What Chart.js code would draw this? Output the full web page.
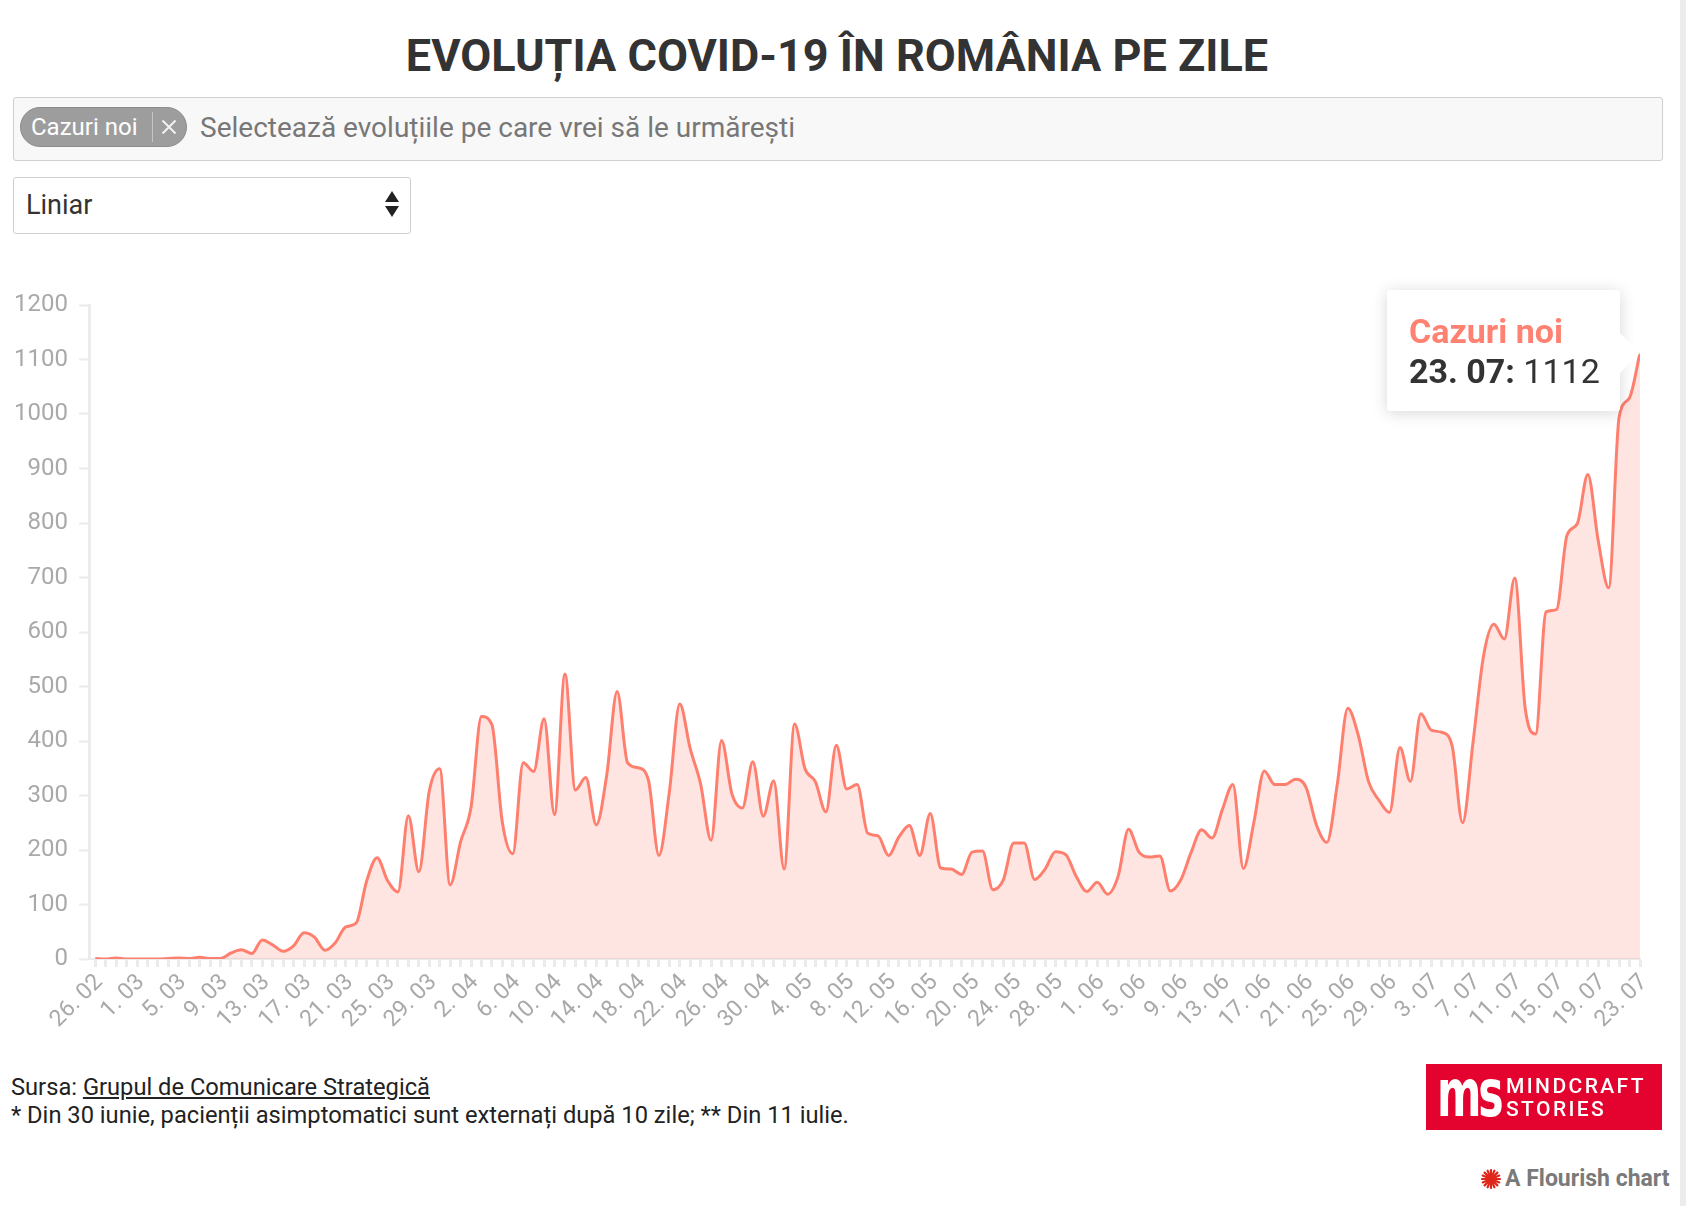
<!DOCTYPE html>
<html lang="ro">
<head>
<meta charset="utf-8">
<title>Evoluția COVID-19 în România pe zile</title>
<script src="https://cdn.jsdelivr.net/npm/chart.js@4.4.1/dist/chart.umd.min.js"></script>
<style>
  html, body { margin: 0; padding: 0; background: #fff; }
  body { width: 1686px; height: 1206px; position: relative; overflow: hidden;
         font-family: Roboto, "Noto Sans", sans-serif; color: #333; }
  #title { position: absolute; left: 0; top: 30px; width: 1674px; text-align: center;
           font-weight: 700; font-size: 45px; line-height: 52px; color: #333; }
  #picker { position: absolute; left: 13px; top: 97px; width: 1648px; height: 62px;
            background: #f8f8f8; border: 1px solid #cfcfcf; border-radius: 3px; }
  #picker .pill { position: absolute; left: 6px; top: 9px; width: 167px; height: 40px; box-sizing: border-box;
                  border-radius: 20px; background: #9d9d9d; border: 1px solid #8c8c8c; color: #fff;
                  font-size: 24px; line-height: 38px; padding-left: 10px; }
  #picker .pill .sep { position: absolute; left: 131px; top: 4px; width: 1px; height: 30px; background: #c4c4c4; }
  #picker .pill svg { position: absolute; left: 140px; top: 11px; }
  #picker .hint { position: absolute; left: 186px; top: 0; line-height: 60px; font-size: 28px; color: #777; }
  #scale { position: absolute; left: 13px; top: 177px; width: 384px; height: 55px;
           border: 1px solid #cfcfcf; border-radius: 3px; background: #fff;
           font-size: 27px; line-height: 55px; padding-left: 12px; }
  #scale .up, #scale .down { position: absolute; right: 11px; width: 0; height: 0;
           border-left: 7px solid transparent; border-right: 7px solid transparent; }
  #scale .up { top: 13px; border-bottom: 11px solid #222; }
  #scale .down { top: 28px; border-top: 11px solid #222; }
  #chartBox { position: absolute; left: 0; top: 273px; width: 1686px; height: 790px; }
  #tip { position: absolute; width: 233px; height: 121px; box-sizing: border-box; background: #fff;
         border-radius: 3px; box-shadow: 0 2px 16px rgba(0,0,0,0.16); padding: 21px 0 0 22px; }
  #tip .t { font-weight: 700; font-size: 34px; line-height: 40px; color: #ff8172; }
  #tip .b { font-size: 34px; line-height: 40px; color: #333; }
  #tip .caret { position: absolute; right: -20px; top: 43px; width: 0; height: 0;
         border-top: 20px solid transparent; border-bottom: 20px solid transparent; border-left: 20px solid #fff; }
  #source { position: absolute; left: 11px; top: 1073px; font-size: 23.7px; line-height: 28px; color: #222; }
  #source a { color: #222; text-decoration: underline; }
  #logo { position: absolute; left: 1426px; top: 1064px; width: 236px; height: 66px; background: #e4032e; color: #fff; }
  #logo .ms { position: absolute; left: 11px; top: -4px; font-family: "DejaVu Sans", sans-serif; font-weight: 700;
              font-size: 52px; line-height: 66px; letter-spacing: -4px; transform: scale(0.82, 1.25); transform-origin: left center; }
  #logo .name { position: absolute; left: 80px; top: 11px; font-size: 21px; line-height: 23px; letter-spacing: 2.4px; font-weight: 500; }
  #flourish { position: absolute; left: 1480px; top: 1165px; font-size: 23px; font-weight: 700; color: #7a7a7a; line-height: 28px; }
  #flourish svg { vertical-align: -4px; margin-right: 3px; }
  #edge { position: absolute; left: 1680px; top: 0; width: 6px; height: 1206px; background: #ececec; }
</style>
</head>
<body>
<div id="title">EVOLUȚIA COVID-19 ÎN ROMÂNIA PE ZILE</div>
<div id="picker">
  <div class="pill">Cazuri noi<span class="sep"></span><svg width="16" height="16" viewBox="0 0 16 16"><path d="M1.5 1.5 L14.5 14.5 M14.5 1.5 L1.5 14.5" stroke="#f2f2f2" stroke-width="2"/></svg></div>
  <div class="hint">Selectează evoluțiile pe care vrei să le urmărești</div>
</div>
<div id="scale">Liniar<span class="up"></span><span class="down"></span></div>
<div id="chartBox"><canvas id="chart"></canvas></div>
<div id="tip"><div class="t"></div><div class="b"></div><span class="caret"></span></div>
<div id="source">Sursa: <a>Grupul de Comunicare Strategică</a><br>* Din 30 iunie, pacienții asimptomatici sunt externați după 10 zile; ** Din 11 iulie.</div>
<div id="logo"><div class="ms">ms</div><div class="name">MINDCRAFT<br>STORIES</div></div>
<div id="flourish"><svg width="22" height="22" viewBox="-11 -11 22 22"><g stroke="#e0261b" stroke-width="2.2" stroke-linecap="round">
  <line x1="-9" y1="0" x2="9" y2="0"/><line x1="0" y1="-9" x2="0" y2="9"/><line x1="-6.4" y1="-6.4" x2="6.4" y2="6.4"/><line x1="-6.4" y1="6.4" x2="6.4" y2="-6.4"/>
  <line x1="-3.4" y1="-8.3" x2="3.4" y2="8.3"/><line x1="-8.3" y1="-3.4" x2="8.3" y2="3.4"/><line x1="-3.4" y1="8.3" x2="3.4" y2="-8.3"/><line x1="-8.3" y1="3.4" x2="8.3" y2="-3.4"/></g></svg>A Flourish chart</div>
<div id="edge"></div>

<script>
// Daily new cases ("Cazuri noi"), 26 Feb - 23 Jul 2020
const seriesName = 'Cazuri noi';
const monthCodes = ['02', '03', '04', '05', '06', '07'];
const monthFirstDay = [26, 1, 1, 1, 1, 1];

const febCases = [1, 0, 2, 0];
const marCases = [0, 0, 0, 1, 2, 1, 3, 1, 1, 11, 17, 10, 35, 26, 14, 24, 48, 40, 16, 30,
                  59, 66, 143, 186, 144, 123, 263, 160, 308, 349, 136];
const aprCases = [215, 278, 445, 430, 251, 193, 360, 344, 441, 265, 523, 310, 333, 246, 337,
                  491, 360, 351, 328, 190, 306, 468, 386, 321, 218, 401, 303, 277, 362, 262];
const mayCases = [327, 165, 431, 349, 325, 270, 392, 312, 320, 231, 226, 190, 224, 245, 190, 267,
                  167, 165, 155, 196, 198, 127, 145, 213, 213, 146, 165, 197, 191, 151, 124];
const junCases = [141, 119, 152, 238, 196, 187, 189, 125, 145, 196, 237, 222, 275, 320, 166,
                  250, 345, 320, 320, 330, 315, 246, 214, 321, 460, 411, 325, 291, 269, 388];
const julCases = [326, 450, 420, 416, 391, 250, 397, 555, 614, 587, 699, 460, 413, 637, 641,
                  777, 799, 889, 767, 681, 994, 1030, 1112];

const yTicks = { min: 0, max: 1200, step: 100 };
const labelEvery = 4;

const lineColor = '#ff7f6f';
const fillColor = 'rgba(255, 127, 111, 0.2)';
const axisColor = '#ebebeb';
const tickTextColor = '#a9a9a9';

// Flatten the months into one day list
const byMonth = [febCases, marCases, aprCases, mayCases, junCases, julCases];
const dayLabels = [];
const values = [];
byMonth.forEach((arr, m) => {
    arr.forEach((v, j) => {
        dayLabels.push((monthFirstDay[m] + j) + '. ' + monthCodes[m]);
        values.push(v);
    });
});
const last = values.length - 1;
const points = values.map((v, i) => ({ x: i, y: v }));

const ctx = document.getElementById('chart').getContext('2d');
const chart = new Chart(ctx, {
    type: 'line',
    data: {
        datasets: [{
            label: seriesName,
            data: points,
            borderColor: lineColor,
            backgroundColor: fillColor,
            borderWidth: 3,
            fill: 'origin',
            pointRadius: 0,
            pointHoverRadius: 0,
            cubicInterpolationMode: 'monotone'
        }]
    },
    options: {
        responsive: true,
        maintainAspectRatio: false,
        animation: false,
        events: [],
        layout: { padding: { top: 32, right: 46, left: 0, bottom: 0 } },
        plugins: {
            legend: { display: false },
            tooltip: { enabled: false }
        },
        scales: {
            x: {
                type: 'linear',
                min: -0.6,
                max: last,
                border: { color: axisColor, width: 2 },
                grid: { drawOnChartArea: false, drawTicks: true, tickLength: 8, tickWidth: 3, tickColor: axisColor },
                ticks: {
                    stepSize: 1,
                    includeBounds: false,
                    autoSkip: false,
                    maxRotation: 45,
                    minRotation: 45,
                    padding: 2,
                    labelOffset: 4,
                    color: tickTextColor,
                    font: { family: 'Roboto', size: 23 },
                    callback: v => (Number.isInteger(v) && v % labelEvery === 0) ? dayLabels[v] : ''
                },
                afterFit: s => { s.height = 104; }
            },
            y: {
                min: yTicks.min,
                max: yTicks.max,
                border: { color: axisColor, width: 3 },
                grid: { drawOnChartArea: false, tickLength: 10, tickWidth: 2, tickColor: axisColor },
                ticks: {
                    stepSize: yTicks.step,
                    padding: 11,
                    color: tickTextColor,
                    font: { family: 'Roboto', size: 24 },
                    callback: v => String(v)
                },
                afterFit: s => { s.width = 89; }
            }
        }
    }
});

// Pinned tooltip on the latest day
const tip = document.getElementById('tip');
tip.querySelector('.t').textContent = seriesName;
tip.querySelector('.b').innerHTML = '<b>' + dayLabels[last] + ':</b> ' + values[last];
const pt = chart.getDatasetMeta(0).data[last];
const boxTop = document.getElementById('chartBox').offsetTop;
tip.style.left = (pt.x - 20 - 233) + 'px';
tip.style.top = (boxTop + pt.y - 63) + 'px';
</script>
</body>
</html>
